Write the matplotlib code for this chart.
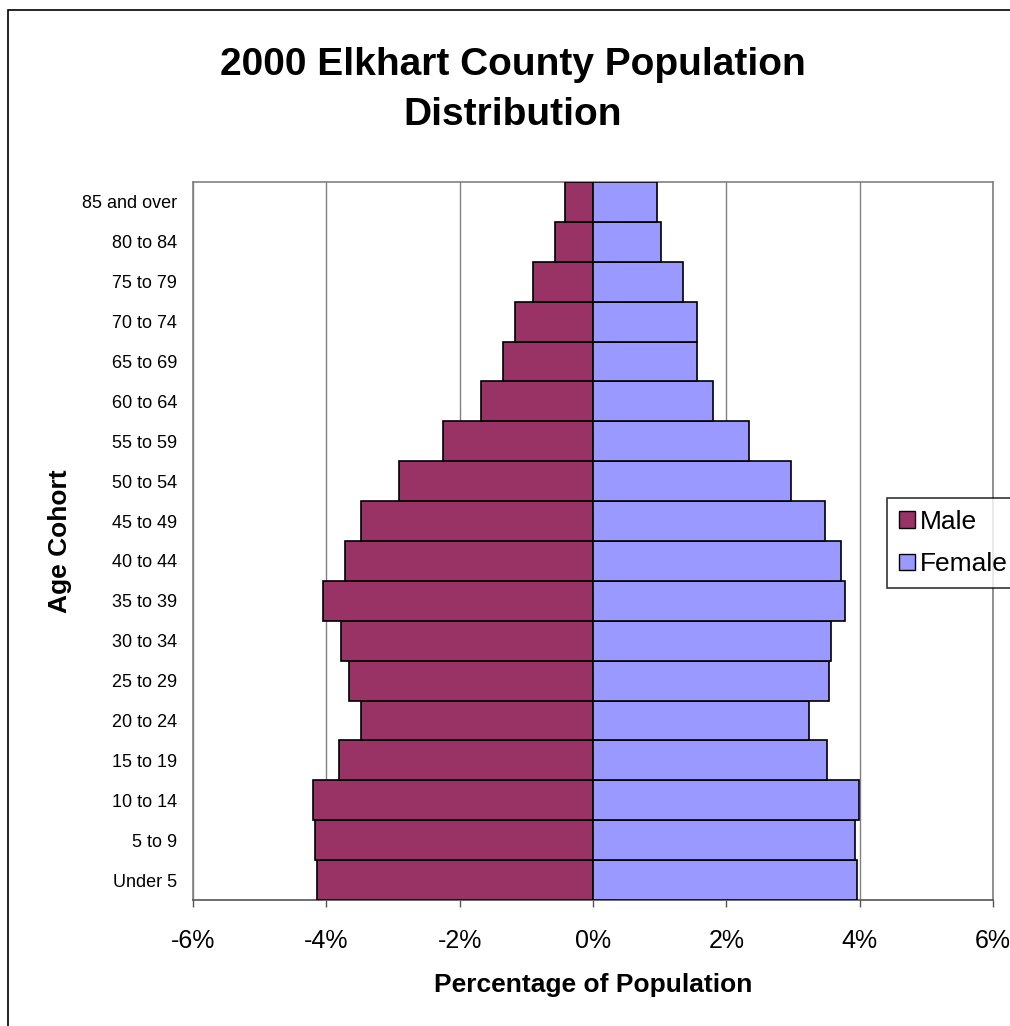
import matplotlib

matplotlib.use("Agg")
import matplotlib.pyplot as plt
from matplotlib.patches import Rectangle, Patch
from matplotlib.ticker import FuncFormatter

plt.rcParams["font.family"] = ["Liberation Sans", "DejaVu Sans"]

# --- data (percent of total population) ---------------------------------
cohorts = ["Under 5", "5 to 9", "10 to 14", "15 to 19", "20 to 24", "25 to 29",
           "30 to 34", "35 to 39", "40 to 44", "45 to 49", "50 to 54", "55 to 59",
           "60 to 64", "65 to 69", "70 to 74", "75 to 79", "80 to 84", "85 and over"]
male = [4.14, 4.17, 4.20, 3.81, 3.48, 3.66, 3.78, 4.05, 3.72, 3.48, 2.91, 2.25,
        1.68, 1.35, 1.17, 0.90, 0.57, 0.42]
female = [3.96, 3.93, 3.99, 3.51, 3.24, 3.54, 3.57, 3.78, 3.72, 3.48, 2.97, 2.34,
          1.80, 1.56, 1.56, 1.35, 1.02, 0.96]

male_color = "#993366"
female_color = "#9999FF"

fig = plt.figure(figsize=(10.1, 10.26), dpi=100)
ax = fig.add_axes([193 / 1010, 1 - 900 / 1026, 800 / 1010, 718 / 1026])

y = range(len(cohorts))
ax.barh(y, [-m for m in male], height=1.0, color=male_color, edgecolor="black",
        lw=1.2, zorder=3)
ax.barh(y, female, height=1.0, color=female_color, edgecolor="black",
        lw=1.2, zorder=3)

ax.set_xlim(-6, 6)
ax.set_ylim(-0.5, len(cohorts) - 0.5)
ax.set_xticks([-6, -4, -2, 0, 2, 4, 6])
ax.xaxis.set_major_formatter(FuncFormatter(lambda v, _: f"{v:.0f}%"))
ax.set_yticks(list(y), cohorts)
ax.tick_params(axis="y", length=0, pad=11.5, labelsize=13)
ax.tick_params(axis="x", length=5, width=1, color="#555555", pad=16, labelsize=18)
ax.grid(axis="x", color="#808080", lw=1, zorder=0)
for s in ax.spines.values():
    s.set_color("#808080")
    s.set_linewidth(1.2)
ax.spines["bottom"].set_color("#555555")

ax.set_xlabel("Percentage of Population", fontsize=19, fontweight="bold", labelpad=14)
ax.set_ylabel("Age Cohort", fontsize=19, fontweight="bold", labelpad=7)

fig.text(513 / 1010, 1 - 90 / 1026, "2000 Elkhart County Population\nDistribution",
         ha="center", va="center", fontsize=28, fontweight="bold", linespacing=1.47)

# outer chart border (runs off the right and bottom edges)
fig.patches.append(Rectangle((8 / 1010, -0.1), 1.2, 1 - 10 / 1026 + 0.1,
                             transform=fig.transFigure, fill=False,
                             edgecolor="black", lw=1.2))

handles = [Patch(facecolor=male_color, edgecolor="black", label="Male"),
           Patch(facecolor=female_color, edgecolor="black", label="Female")]
leg = fig.legend(handles=handles, loc="upper left",
                 bbox_to_anchor=(887 / 1010, 1 - 498 / 1026), fontsize=19,
                 frameon=True, fancybox=False, edgecolor="black",
                 handlelength=0.6, handleheight=0.6, handletextpad=0.2,
                 borderpad=0.45, labelspacing=0.7, borderaxespad=0)
leg.get_frame().set_linewidth(1.2)

fig.savefig("out.png", dpi=100)
